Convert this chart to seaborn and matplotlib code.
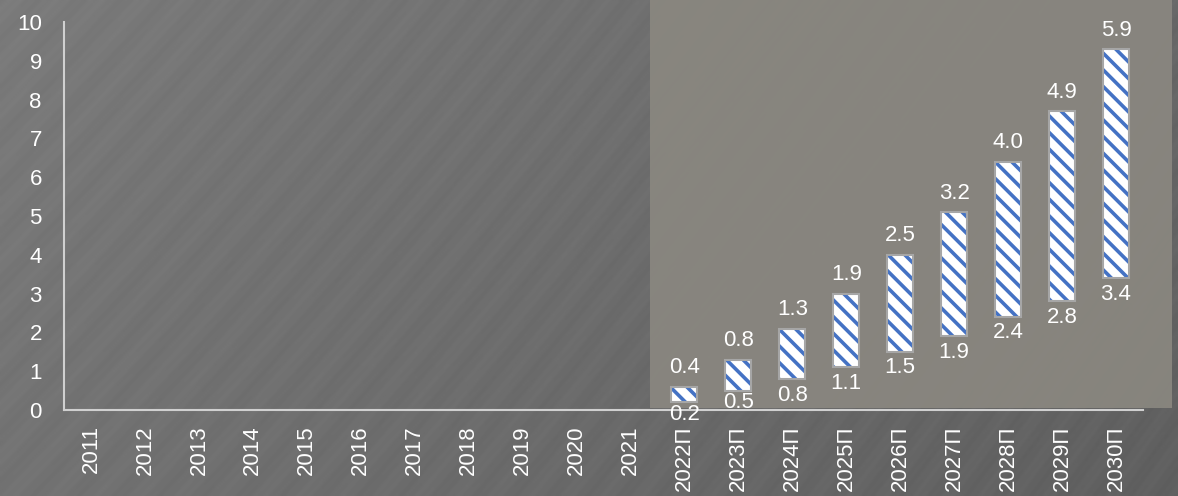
import numpy as np
import pandas as pd
import seaborn as sns
import matplotlib.pyplot as plt
from matplotlib.patches import Rectangle

years = ['2011', '2012', '2013', '2014', '2015', '2016', '2017', '2018', '2019', '2020', '2021',
         '2022П', '2023П', '2024П', '2025П', '2026П', '2027П', '2028П', '2029П', '2030П']
fc_years = ['2022П', '2023П', '2024П', '2025П', '2026П', '2027П', '2028П', '2029П', '2030П']
low = [0.2, 0.5, 0.8, 1.1, 1.5, 1.9, 2.4, 2.8, 3.4]
rng = [0.4, 0.8, 1.3, 1.9, 2.5, 3.2, 4.0, 4.9, 5.9]

data = pd.DataFrame({'year': fc_years, 'low': low, 'rng': rng})

sns.set_theme(style='white')
plt.rcParams['font.family'] = ['Liberation Sans', 'DejaVu Sans']
plt.rcParams['hatch.linewidth'] = 2.6

fig = plt.figure(figsize=(11.78, 4.96), dpi=100)
fig.patch.set_facecolor('#6e6e6e')

# background: brushed gray with a lighter panel on the right
bg = fig.add_axes([0, 0, 1, 1], zorder=-2)
xx, yy = np.meshgrid(np.linspace(0, 1, 600), np.linspace(1, 0, 250))
base = 0.77 - 0.12 * xx - 0.05 * (1 - yy)
streak = 0.012 * np.sin(70 * (xx * 2.4 - yy * 0.9 + 0.5 * xx ** 2)) \
    + 0.008 * np.sin(260 * (xx * 2.4 - yy * 1.0 + 0.4 * xx ** 2))
bg.imshow(base + streak, cmap='gray', vmin=0, vmax=1.6, aspect='auto',
          extent=[0, 1, 0, 1], interpolation='bilinear')
bg.add_patch(Rectangle((650 / 1178, 1 - 408 / 496), (1172 - 650) / 1178, 408 / 496,
                       facecolor='#8a8780', edgecolor='none', alpha=0.93,
                       transform=bg.transAxes))
bg.set_xlim(0, 1)
bg.set_ylim(0, 1)
bg.axis('off')

ax = fig.add_axes([64 / 1178, 1 - 410 / 496, (1143 - 64) / 1178, 388 / 496])
ax.patch.set_alpha(0)

sns.barplot(data=data, x='year', y='rng', order=years, ax=ax, color='white',
            width=0.48, edgecolor='#4472c4', linewidth=0, hatch='\\\\', saturation=1)
for p, b in zip(ax.patches, low):
    p.set_y(b)
    p.set_facecolor('white')
    p.set_edgecolor('#4472c4')

# gray outline and value labels
for p, b, r in zip(list(ax.patches), low, rng):
    ax.add_patch(Rectangle((p.get_x(), b), p.get_width(), r, fill=False,
                           edgecolor='#a6a6a6', linewidth=1.5))
    cx = p.get_x() + p.get_width() / 2
    ax.annotate(f'{r:.1f}', (cx, b + r), xytext=(0, 6), textcoords='offset points',
                ha='center', va='bottom', color='white', fontsize=16)
    # labels near the axis sit a bit closer to the bar (as in the original)
    off = -1 if b < 0.6 else -4
    ax.annotate(f'{b:.1f}', (cx, b), xytext=(0, off), textcoords='offset points',
                ha='center', va='top', color='white', fontsize=16)

ax.set_ylim(0, 10)
ax.set_xlim(-0.5, len(years) - 0.5)
ax.set_yticks(range(0, 11))
ax.set_xlabel('')
ax.set_ylabel('')
ax.tick_params(axis='x', rotation=90, colors='white', labelsize=16, length=0, pad=11)
ax.tick_params(axis='y', colors='white', labelsize=16, length=0, pad=16)
for s in ['top', 'right']:
    ax.spines[s].set_visible(False)
for s in ['left', 'bottom']:
    ax.spines[s].set_color('#d0d0d0')
    ax.spines[s].set_linewidth(1.5)

fig.savefig('out.png', dpi=100, facecolor=fig.get_facecolor())
